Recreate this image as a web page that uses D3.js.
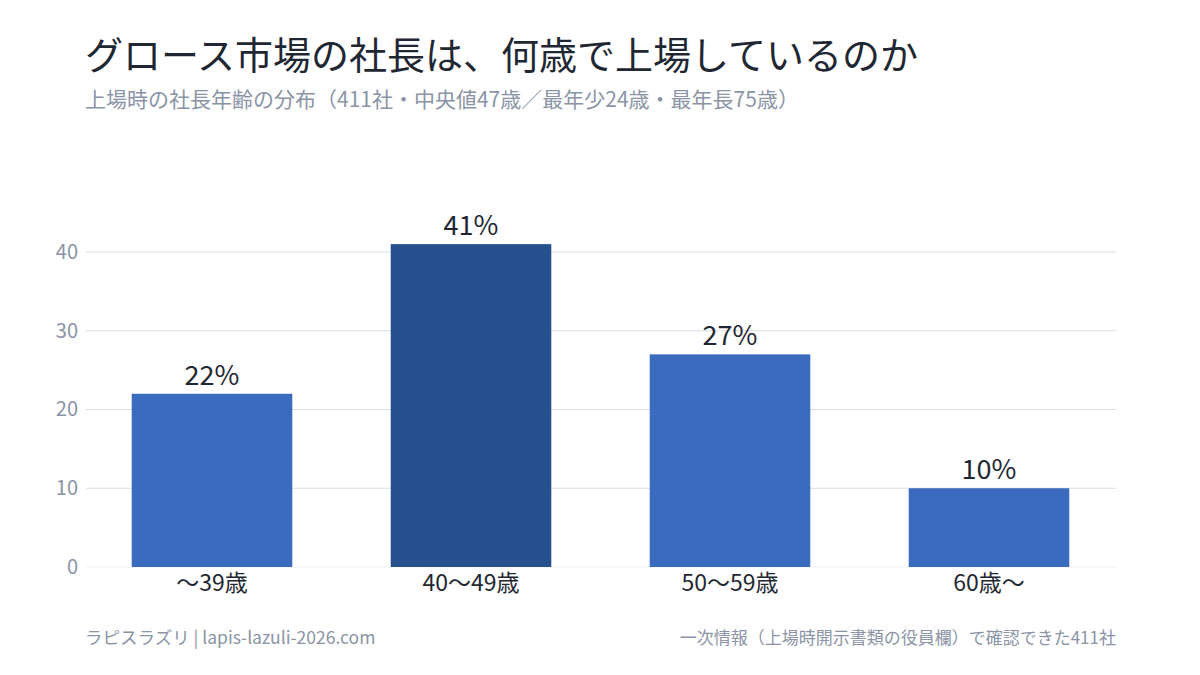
<!DOCTYPE html>
<html>
<head>
<meta charset="utf-8">
<script src="https://cdn.jsdelivr.net/npm/d3@7"></script>
<style>
  body { margin: 0; background: #fff; }
  svg text { font-family: "Noto Sans CJK JP", "Noto Sans", sans-serif; }
</style>
</head>
<body>
<div id="chart"></div>
<script>
// data
var categories = ["〜39歳", "40〜49歳", "50〜59歳", "60歳〜"];
var shares = [22, 41, 27, 10];
var highlight = "40〜49歳";
var yTicks = [0, 10, 20, 30, 40];

var width = 1200, height = 675;

var svg = d3.select("#chart")
  .append("svg")
  .attr("width", width)
  .attr("height", height);

// titles
svg.append("text")
  .attr("x", 85).attr("y", 69)
  .attr("font-size", 38)
  .attr("fill", "#1f2733")
  .text("グロース市場の社長は、何歳で上場しているのか");

svg.append("text")
  .attr("x", 85).attr("y", 107)
  .attr("font-size", 21)
  .attr("fill", "#8a94a6")
  .text("上場時の社長年齢の分布（411社・中央値47歳／最年少24歳・最年長75歳）");

var x = d3.scaleBand()
  .domain(categories)
  .range([82.5, 1118.5])
  .paddingInner(0.38)
  .paddingOuter(0.19);

var y = d3.scaleLinear()
  .domain([0, 40])
  .range([567, 252]);

// gridlines
svg.append("g")
  .selectAll("line")
  .data(yTicks)
  .enter().append("line")
  .attr("x1", 86).attr("x2", 1116)
  .attr("y1", d => y(d)).attr("y2", d => y(d))
  .attr("stroke", d => d === 0 ? "#eef1f5" : "#d8dde6")
  .attr("stroke-width", 1);

// y axis labels
var yAxis = d3.axisLeft(y).tickValues(yTicks).tickSize(0).tickPadding(8);
var gy = svg.append("g")
  .attr("transform", "translate(86,0)")
  .call(yAxis);
gy.select(".domain").remove();
gy.selectAll("text")
  .attr("font-size", 20)
  .attr("fill", "#8a94a6")
  .style("font-family", '"Noto Sans CJK JP", sans-serif');

// bars
var data = categories.map((c, i) => ({cat: c, v: shares[i]}));

svg.append("g")
  .selectAll("rect")
  .data(data)
  .enter().append("rect")
  .attr("x", d => x(d.cat))
  .attr("y", d => y(d.v))
  .attr("width", x.bandwidth())
  .attr("height", d => y(0) - y(d.v))
  .attr("fill", d => d.cat === highlight ? "#27518e" : "#3b6bbf");

// value labels
svg.append("g")
  .selectAll("text")
  .data(data)
  .enter().append("text")
  .attr("x", d => x(d.cat) + x.bandwidth() / 2)
  .attr("y", d => y(d.v) - 9)
  .attr("text-anchor", "middle")
  .attr("font-size", 27)
  .attr("fill", "#1f2733")
  .text(d => d.v + "%");

// x axis labels
var xAxis = d3.axisBottom(x).tickSize(0).tickPadding(8);
var gx = svg.append("g")
  .attr("transform", "translate(0,567)")
  .call(xAxis);
gx.select(".domain").remove();
gx.selectAll("text")
  .attr("font-size", 23)
  .attr("fill", "#1f2733")
  .style("font-family", '"Noto Sans CJK JP", sans-serif');

// footer
svg.append("text")
  .attr("x", 85).attr("y", 644)
  .attr("font-size", 17.5)
  .attr("fill", "#8a94a6")
  .text("ラピスラズリ | lapis-lazuli-2026.com");

svg.append("text")
  .attr("x", 1116).attr("y", 644)
  .attr("text-anchor", "end")
  .attr("font-size", 17)
  .attr("fill", "#8a94a6")
  .text("一次情報（上場時開示書類の役員欄）で確認できた411社");
</script>
</body>
</html>
